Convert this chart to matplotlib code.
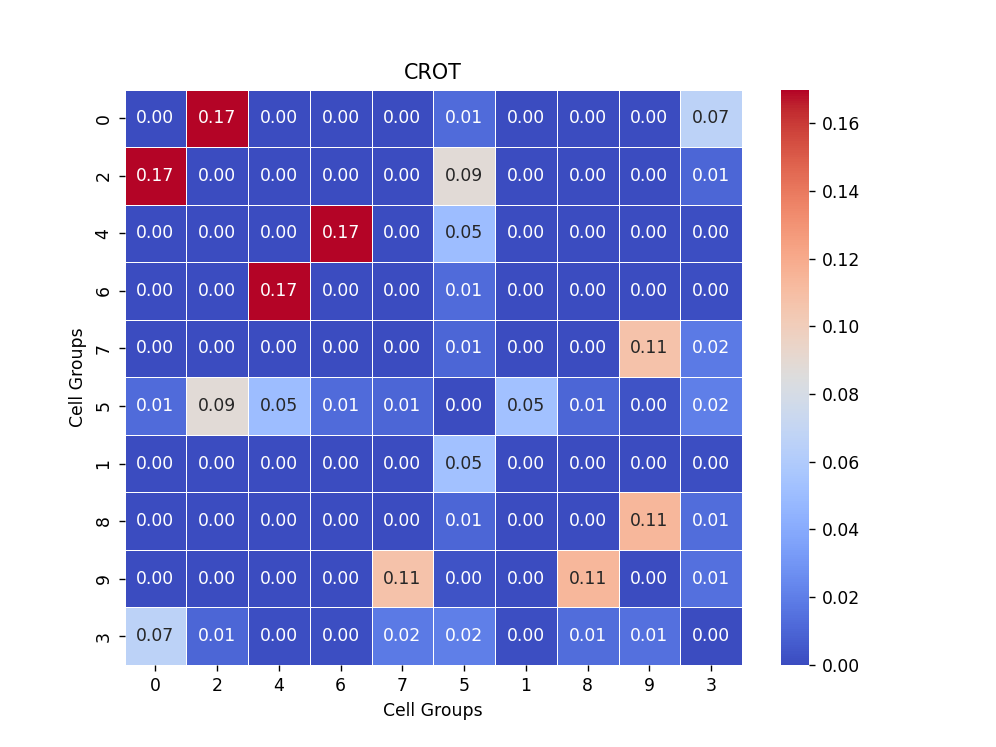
import numpy as np
import matplotlib
matplotlib.use("Agg")
import matplotlib.pyplot as plt
import seaborn as sns

# cell group order as shown on the axes
groups = ['0', '2', '4', '6', '7', '5', '1', '8', '9', '3']

# CROT values (rows/cols in the order above)
crot = [
    [0.000, 0.170, 0.000, 0.000, 0.000, 0.012, 0.000, 0.000, 0.000, 0.066],
    [0.170, 0.000, 0.000, 0.000, 0.000, 0.088, 0.000, 0.000, 0.000, 0.010],
    [0.000, 0.000, 0.000, 0.170, 0.000, 0.050, 0.000, 0.000, 0.000, 0.001],
    [0.000, 0.000, 0.170, 0.000, 0.000, 0.012, 0.000, 0.000, 0.000, 0.001],
    [0.000, 0.000, 0.000, 0.000, 0.000, 0.010, 0.000, 0.000, 0.107, 0.018],
    [0.012, 0.088, 0.050, 0.012, 0.010, 0.000, 0.053, 0.010, 0.003, 0.020],
    [0.000, 0.000, 0.000, 0.000, 0.000, 0.053, 0.000, 0.000, 0.000, 0.001],
    [0.000, 0.000, 0.000, 0.000, 0.000, 0.010, 0.000, 0.000, 0.114, 0.013],
    [0.000, 0.000, 0.000, 0.000, 0.107, 0.003, 0.000, 0.114, 0.000, 0.014],
    [0.066, 0.010, 0.001, 0.001, 0.018, 0.020, 0.001, 0.013, 0.014, 0.000],
]

fig = plt.figure(figsize=(8, 6), dpi=124.5)
ax = sns.heatmap(np.array(crot), annot=True, fmt='.2f', cmap='coolwarm',
                 linewidths=0.5, xticklabels=groups, yticklabels=groups)
ax.set_title('CROT')
ax.set_xlabel('Cell Groups')
ax.set_ylabel('Cell Groups')
plt.savefig('out.png', dpi=124.5)
